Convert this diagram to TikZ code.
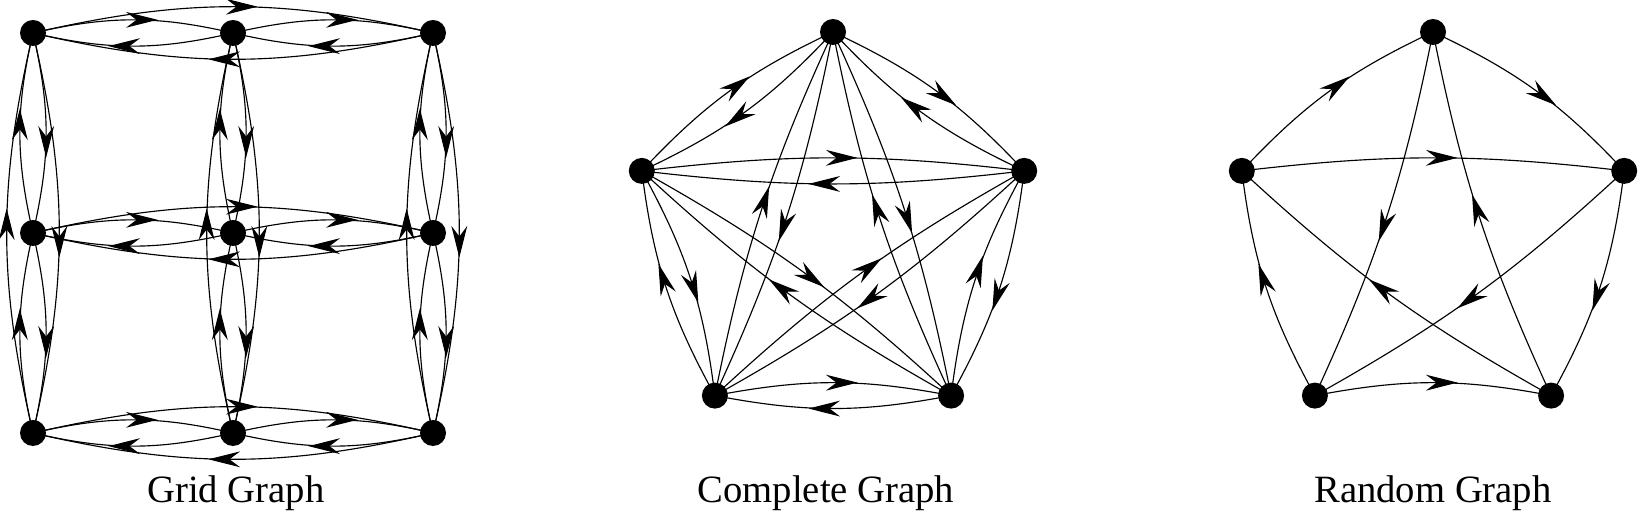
\documentclass[tikz,border=0pt]{standalone}
\usepackage{fontspec}
\setmainfont{Liberation Serif}
\usetikzlibrary{arrows.meta,decorations.markings}
\tikzset{
  vertex/.style={circle, fill=black, inner sep=0pt, minimum size=0.52cm},
  dedge/.style={line width=0.65pt, postaction={decorate},
    decoration={markings, mark=at position 0.5 with {\arrow[xshift=14pt]{Stealth[length=18pt,width=9pt,inset=6pt]}}}},
  caption/.style={anchor=base, font=\fontsize{22}{26}\selectfont},
}
\newcommand\dE[3]{\draw[dedge] (#1.center) to[bend left=#3] (#2.center);}
\begin{document}
\begin{tikzpicture}[x=0.02cm, y=0.02cm]
\useasboundingbox (0,0) rectangle (1639,523);
% ---------- Grid graph ----------
\foreach \r/\yy in {1/490, 2/290, 3/90} {
  \foreach \c/\xx in {1/33, 2/233, 3/433} {
    \node[vertex] (g\r\c) at (\xx,\yy) {};
  }
}
\foreach \r in {1,2,3} {
  \dE{g\r1}{g\r2}{13} \dE{g\r2}{g\r1}{13}
  \dE{g\r2}{g\r3}{13} \dE{g\r3}{g\r2}{13}
  \dE{g\r1}{g\r3}{13} \dE{g\r3}{g\r1}{13}
}
\foreach \c in {1,2,3} {
  \dE{g3\c}{g2\c}{13} \dE{g2\c}{g3\c}{13}
  \dE{g2\c}{g1\c}{13} \dE{g1\c}{g2\c}{13}
  \dE{g3\c}{g1\c}{13} \dE{g1\c}{g3\c}{13}
}
% ---------- Complete graph ----------
\node[vertex] (cT)  at (833,491) {};
\node[vertex] (cL)  at (641.8,352.1) {};
\node[vertex] (cR)  at (1024.2,352.1) {};
\node[vertex] (cBL) at (714.9,127.4) {};
\node[vertex] (cBR) at (951.1,127.4) {};
% sides
\dE{cT}{cL}{10.8} \dE{cL}{cT}{10.8}
\dE{cT}{cR}{10.8} \dE{cR}{cT}{10.8}
\dE{cL}{cBL}{10.8} \dE{cBL}{cL}{10.8}
\dE{cR}{cBR}{10.8} \dE{cBR}{cR}{10.8}
\dE{cBL}{cBR}{10.8} \dE{cBR}{cBL}{10.8}
% diagonals
\dE{cT}{cBL}{6.7} \dE{cBL}{cT}{6.7}
\dE{cT}{cBR}{6.7} \dE{cBR}{cT}{6.7}
\dE{cL}{cR}{6.7} \dE{cR}{cL}{6.7}
\dE{cL}{cBR}{6.7} \dE{cBR}{cL}{6.7}
\dE{cR}{cBL}{6.7} \dE{cBL}{cR}{6.7}
% ---------- Random graph ----------
\node[vertex] (rT)  at (1433,491) {};
\node[vertex] (rL)  at (1241.8,352.1) {};
\node[vertex] (rR)  at (1624.2,352.1) {};
\node[vertex] (rBL) at (1314.9,127.4) {};
\node[vertex] (rBR) at (1551.1,127.4) {};
\dE{rL}{rT}{10.8}
\dE{rT}{rR}{10.8}
\dE{rBL}{rL}{10.8}
\dE{rR}{rBR}{10.8}
\dE{rBL}{rBR}{10.8}
\dE{rL}{rR}{6.7}
\dE{rT}{rBL}{6.7}
\dE{rBR}{rT}{6.7}
\dE{rBR}{rL}{6.7}
\dE{rR}{rBL}{6.7}
% ---------- captions ----------
\node[caption] (t1) at (236,20) {Grid Graph};
\node[caption] (t2) at (826,20) {Complete Graph};
\node[caption] (t3) at (1433,20) {Random Graph};
\end{tikzpicture}
\end{document}
